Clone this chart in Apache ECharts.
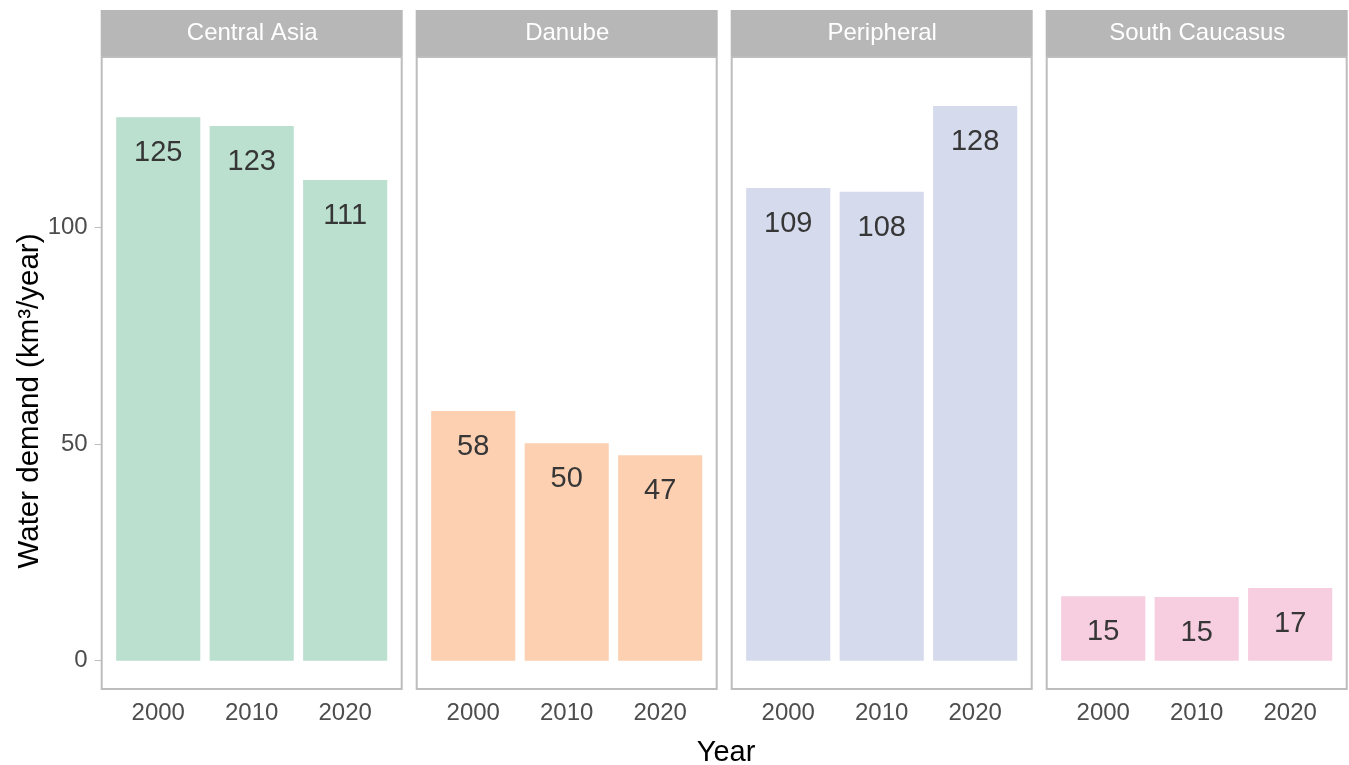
<!DOCTYPE html>
<html>
<head>
<meta charset="utf-8">
<script src="https://cdn.jsdelivr.net/npm/echarts@6/dist/echarts.min.js"></script>
<style>
  html, body { margin: 0; padding: 0; background: #fff; }
  #chart { width: 1349px; height: 765px; }
</style>
</head>
<body>
<div id="chart"></div>
<script>
const regions = ["Central Asia", "Danube", "Peripheral", "South Caucasus"]
const years = ["2000", "2010", "2020"]
const centralAsia = [125.4, 123.4, 110.9]
const danube = [57.6, 50.2, 47.4]
const peripheral = [109.1, 108.2, 128.0]
const southCaucasus = [14.9, 14.7, 16.8]
const yTicks = [0, 50, 100]
const colors = ["#bbe0cf", "#fdd0b2", "#d5dbed", "#f7cde0"]
const values = [centralAsia, danube, peripheral, southCaucasus]

const font = "'Liberation Sans', Arial, sans-serif"
const panelLeft = 101.7
const panelStep = 315
const panelWidth = 301
const panelTop = 57
const panelHeight = 632
const inset = 9.8
const grey70 = "#bdbdbd"

const grids = []
const xAxes = []
const yAxes = []
const series = []
const graphics = []

regions.forEach((name, i) => {
  const left = panelLeft + i * panelStep
  grids.push({ left: left + inset, width: panelWidth - 2 * inset - 1, top: panelTop, height: panelHeight })
  xAxes.push({
    type: "category",
    gridIndex: i,
    data: years,
    axisLine: { show: false },
    axisTick: { alignWithLabel: true, length: 7, lineStyle: { color: grey70, width: 1 } },
    axisLabel: { fontSize: 24, color: "#4d4d4d", fontFamily: font, margin: 12 }
  })
  yAxes.push({
    type: "value",
    gridIndex: i,
    min: -6.53,
    max: 139.3,
    offset: inset,
    splitLine: { show: false },
    axisLine: { show: false },
    axisTick: { show: i === 0, customValues: yTicks, length: 7, lineStyle: { color: grey70, width: 1 } },
    axisLabel: { show: i === 0, customValues: yTicks, fontSize: 24, color: "#4d4d4d", fontFamily: font, margin: 14 }
  })
  series.push({
    type: "bar",
    name: name,
    xAxisIndex: i,
    yAxisIndex: i,
    data: values[i],
    barWidth: "90%",
    itemStyle: { color: colors[i] },
    label: {
      show: true,
      position: "insideTop",
      distance: 21.5,
      formatter: (p) => Math.round(p.value),
      fontSize: 29,
      color: "#363636",
      fontFamily: font
    }
  })
  // facet strip + panel border
  graphics.push({
    type: "rect",
    shape: { x: left - 1, y: 10, width: panelWidth + 1, height: 46 },
    style: { fill: "#b8b7b7" },
    z: 1
  })
  graphics.push({
    type: "text",
    x: left + panelWidth / 2,
    y: 33,
    style: {
      text: name, fill: "#ffffff", font: "24px " + font,
      textAlign: "center", textVerticalAlign: "middle", align: "center", verticalAlign: "middle"
    },
    z: 2
  })
  graphics.push({
    type: "rect",
    shape: { x: left, y: panelTop, width: panelWidth - 1, height: panelHeight },
    style: { fill: "none", stroke: grey70, lineWidth: 2 },
    z: 1
  })
})

graphics.push({
  type: "text",
  x: 726,
  y: 753,
  style: {
    text: "Year", fill: "#000", font: "29px " + font,
    textAlign: "center", textVerticalAlign: "middle", align: "center", verticalAlign: "middle"
  }
})
graphics.push({
  type: "text",
  x: 30,
  y: 401,
  rotation: Math.PI / 2,
  style: {
    text: "Water demand (km³/year)", fill: "#000", font: "29.5px " + font,
    textAlign: "center", textVerticalAlign: "middle", align: "center", verticalAlign: "middle"
  }
})

const chart = echarts.init(document.getElementById("chart"))
chart.setOption({
  backgroundColor: "#fff",
  animation: false,
  grid: grids,
  xAxis: xAxes,
  yAxis: yAxes,
  series: series,
  graphic: graphics
})
</script>
</body>
</html>
